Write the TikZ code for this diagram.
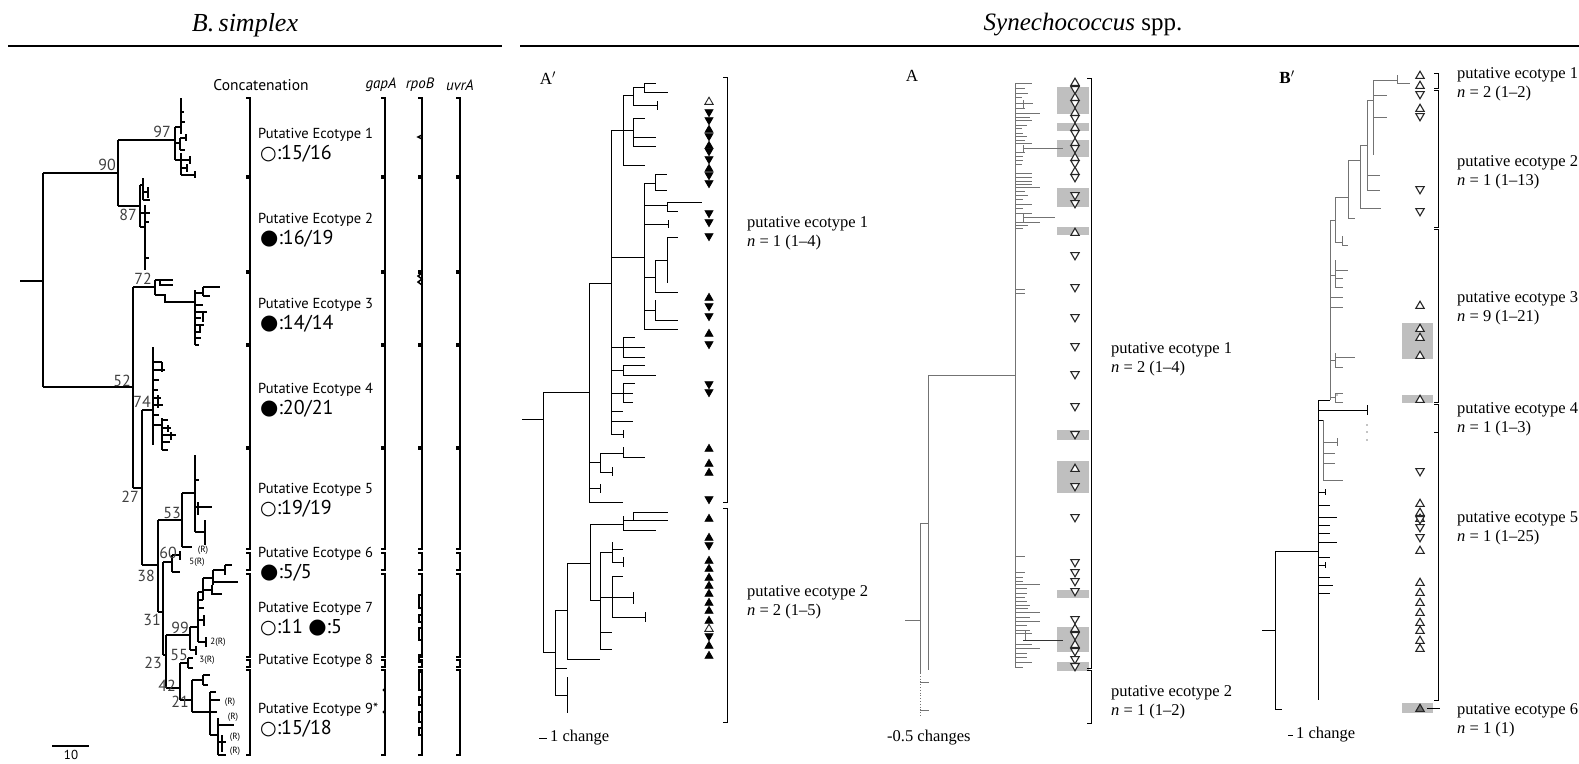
\documentclass[tikz,border=0pt]{standalone}
\usepackage{fontspec}
\setmainfont{Liberation Serif}
\newfontfamily\ptsans{PT Sans}
\newfontfamily\symf{DejaVu Sans}
\usetikzlibrary{positioning}
\newcommand{\opc}{{\symf\fontsize{19}{19}\selectfont ○}}
\newcommand{\flc}{{\symf\fontsize{21}{21}\selectfont ●}}
\newcommand{\seg}[3]{\draw (#1-4,#2)--(#1,#2)--(#1,#3)--(#1-4,#3);}
\newcommand{\comb}[2]{\foreach \cy/\cl in {#2} \draw (#1,\cy)--++(\cl,0);}
\tikzset{
  tu/.pic={\path[pic actions] (0,-3.8)--(4.2,3.4)--(-4.2,3.4)--cycle;},
  td/.pic={\path[pic actions] (0,3.8)--(4.2,-3.4)--(-4.2,-3.4)--cycle;}
}
\begin{document}
\begin{tikzpicture}[x=1pt,y=-1pt,line join=miter,
  bst/.style={line width=1.7pt},
  thin/.style={line width=0.8pt},
  ft/.style={draw,fill=black,line width=0.5pt},
  ot/.style={draw=black!85,fill=white,line width=1.1pt},
  gbox/.style={fill=black!25},
  lab/.style={font=\ptsans\fontsize{14.5}{16}\selectfont,anchor=west,inner sep=0},
  cnt/.style={font=\ptsans\fontsize{20}{22}\selectfont,anchor=west,inner sep=0},
  bsn/.style={font=\ptsans\fontsize{16}{18}\selectfont,text=black!75,inner sep=0},
  rr/.style={font=\ptsans\fontsize{9}{10}\selectfont,inner sep=0},
  eco/.style={font=\fontsize{16.5}{19}\selectfont,anchor=west,align=left,inner sep=0},
  pan/.style={font=\fontsize{17}{19}\selectfont,inner sep=0}]
\useasboundingbox (0,0) rectangle (1579,763);

% headers
\node[font=\fontsize{26}{28}\selectfont\itshape] (hb) at (245,25) {B.\,simplex};
\node[font=\fontsize{25}{28}\selectfont] (hs) at (1083,25) {\textit{Synechococcus} spp.};
\draw[line width=1.8pt] (8,46)--(502,46) (520,46)--(1579,46);

% ---- B. simplex tree
\begin{scope}[bst]
\draw (20,281)--(43,281) (43,173)--(43,387);
\draw (43,173)--(118,173) (118,140)--(118,206);
% clade 1
\draw (118,140)--(175,140) (175,127)--(175,160);
\draw (175,127)--(181,127) (181,98)--(181,134) (181,112)--(184,112) (181,122)--(185,122);
\draw (175,143)--(180,143) (180,138)--(180,150) (180,138)--(186,138) (186,134)--(186,141) (180,150)--(185,150);
\draw (175,160)--(181,160) (181,153)--(181,175) (181,160)--(190,160) (190,156)--(190,164) (181,168)--(187,168) (187,164)--(187,172) (181,175)--(195,175) (195,171)--(195,178);
% clade 2
\draw (118,206)--(140,206) (140,185)--(140,227);
\draw (140,185)--(143,185) (143,178)--(143,200) (143,192)--(148,192) (148,187)--(148,198) (143,200)--(150,200);
\draw (140,213)--(145,213) (145,205)--(145,270) (145,213)--(150,213) (145,222)--(149,222) (145,258)--(149,258) (140,227)--(146,227);
% node 72 and clade 3
\draw (133,287)--(155,287) (155,280)--(155,295);
\draw (155,280)--(173,280) (160,280)--(160,285)--(173,285);
\draw (155,295)--(165,295)--(165,302)--(195,302) (195,290)--(195,345);
\draw (195,293)--(203,293) (203,287)--(203,296) (203,287)--(220,287) (203,296)--(210,296);
\comb{195}{305/8,312/12,318/6,325/9,332/5,338/6,345/4}
\draw (203,312)--(203,322) (200,325)--(200,333);
% node 52
\draw (43,387)--(133,387) (133,287)--(133,488);
\draw (133,488)--(142,488) (142,410)--(142,565);
% clade 4
\draw (142,410)--(153,410) (153,347)--(153,445);
\comb{153}{362/9,370/12,380/6,390/5,398/8,405/10,415/6}
\draw (162,362)--(162,372) (158,395)--(158,408);
\draw (153,425)--(162,425) (162,418)--(162,450);
\comb{162}{420/6,428/9,435/14,442/8,450/6}
\draw (168,425)--(168,432) (171,432)--(171,440);
% node 38, 53
\draw (142,565)--(158,565) (158,520)--(158,612);
\draw (158,520)--(182,520) (182,493)--(182,547) (182,547)--(192,547);
\draw (182,493)--(195,493) (195,455)--(195,532);
\draw (195,480)--(199,480) (195,507)--(212,507) (198,502)--(198,515) (195,532)--(205,532) (205,520)--(205,545);
% node 31, 60
\draw (158,612)--(163,612) (163,562)--(163,655);
\draw (163,562)--(172,562) (172,555)--(172,572) (172,555)--(180,555) (172,572)--(180,572) (180,551)--(180,560);
% node 23, 99
\draw (163,655)--(166,655) (166,635)--(166,688);
\draw (166,635)--(190,635) (190,627)--(190,650) (190,650)--(196,650) (196,646)--(196,655);
\draw (190,627)--(198,627) (198,592)--(198,642) (198,642)--(206,642) (206,637)--(206,647);
\draw (198,620)--(204,620) (204,615)--(204,626) (198,608)--(204,608) (198,600)--(203,600);
\draw (198,592)--(203,592) (203,578)--(203,600) (203,590)--(212,590) (212,585)--(212,594)--(222,594);
\draw (203,578)--(213,578) (213,570)--(213,585) (213,570)--(225,570) (225,565)--(225,575) (225,565)--(232,565) (213,582)--(238,582);
% node 42, 55, 21
\draw (166,688)--(180,688) (180,663)--(180,700);
\draw (180,663)--(188,663) (188,658)--(188,668) (188,658)--(193,658) (188,668)--(193,668);
\draw (180,700)--(192,700) (192,680)--(192,712);
\draw (192,680)--(203,680) (203,675)--(203,685) (203,675)--(210,675) (203,685)--(208,685);
\draw (192,712)--(210,712) (210,692)--(210,735) (210,692)--(216,692) (210,700)--(220,700) (210,712)--(217,712);
\draw (210,735)--(218,735) (218,718)--(218,755) (218,725)--(234,725) (218,742)--(226,742) (218,755)--(226,755) (222,735)--(222,752);
\end{scope}
% support values
\foreach \t/\x/\y in {97/162/132,90/107/165,87/128/215,72/143/279,52/122/381,74/142/402,27/130/497,53/172/513,60/168/553,38/146/576,31/152/620,99/180/628,55/179/655,23/153/663,42/167/686,21/180/702}
  \node[bsn] (s\t) at (\x,\y) {\t};
\node[rr] (r1) at (203,550) {(R)};
\node[rr] (r2) at (197,562) {5(R)};
\node[rr] (r3) at (218,642) {2(R)};
\node[rr] (r4) at (207,660) {3(R)};
\node[rr] (r5) at (230,702) {(R)};
\node[rr] (r6) at (233,717) {(R)};
\node[rr] (r7) at (235,737) {(R)};
\node[rr] (r8) at (235,751) {(R)};
\draw[line width=1.4pt] (52,746)--(89,746);
\node[bsn,text=black,font=\ptsans\fontsize{13}{14}\selectfont] (sb) at (71,755) {10};

% brackets and gene columns
\node[lab,anchor=center,font=\ptsans\fontsize{15.5}{17}\selectfont] (hc) at (261,85) {Concatenation};
\node[lab,anchor=center,font=\ptsans\fontsize{15}{17}\selectfont] (hg) at (381,85) {\itshape gapA};
\node[lab,anchor=center,font=\ptsans\fontsize{15}{17}\selectfont] (hr) at (420,85) {\itshape rpoB};
\node[lab,anchor=center,font=\ptsans\fontsize{15}{17}\selectfont] (hu) at (460,85) {\itshape uvrA};
\begin{scope}[line width=1.5pt]
\foreach \bx in {250,385,422,460}
  \foreach \ya/\yb in {98/176,178/271,273/344,346/447,449/549,553/570,574/657,660/667,670/755}
    {\seg{\bx}{\ya}{\yb}}
\foreach \bx in {250,385,422,460}
  \foreach \yy in {177,272,345,448}
    \fill (\bx-2,\yy) circle (1.6);
\draw (422,135)--(418,137)--(422,139) (422,273)--(418,276)--(422,279)--(418,282)--(422,285);
\foreach \ya/\yb in {595/608,615/622,628/640,655/662,672/690,697/705,712/722,728/735}
  \draw (422,\ya)--(419,\ya)--(419,\yb)--(422,\yb);
\fill (384,690) circle (1.6) (384,712) circle (1.6);
\end{scope}

% ecotype labels
\node[lab] (e1) at (258,135) {Putative Ecotype 1};
\node[cnt] (c1) at (260,154) {\opc:15/16};
\node[lab] (e2) at (258,220) {Putative Ecotype 2};
\node[cnt] (c2) at (260,239) {\flc:16/19};
\node[lab] (e3) at (258,305) {Putative Ecotype 3};
\node[cnt] (c3) at (260,324) {\flc:14/14};
\node[lab] (e4) at (258,390) {Putative Ecotype 4};
\node[cnt] (c4) at (260,409) {\flc:20/21};
\node[lab] (e5) at (258,490) {Putative Ecotype 5};
\node[cnt] (c5) at (260,509) {\opc:19/19};
\node[lab] (e6) at (258,554) {Putative Ecotype 6};
\node[cnt] (c6) at (260,573) {\flc:5/5};
\node[lab] (e7) at (258,609) {Putative Ecotype 7};
\node[cnt] (c7) at (260,628) {\opc:11 \flc:5};
\node[lab] (e8) at (258,661) {Putative Ecotype 8};
\node[lab] (e9) at (258,710) {Putative Ecotype 9*};
\node[cnt] (c9) at (260,729) {\opc:15/18};

% ---- panel A'
\node[pan] (pa1) at (548,78) {A$'$};
\begin{scope}[thin]
\draw (522,419)--(543,419) (543,392)--(543,652);
\draw (543,392)--(589,392) (589,283)--(589,502);
\draw (589,283)--(611,283) (611,130)--(611,435);
\draw (611,130)--(623,130) (623,95)--(623,165) (623,165)--(645,165);
\draw (623,95)--(633,95) (633,87)--(633,105) (633,87)--(644,87) (644,83)--(644,92) (644,83)--(656,83) (644,92)--(668,92) (633,105)--(657,105) (657,101)--(657,110);
\draw (623,130)--(633,130) (633,118)--(633,146) (633,118)--(645,118) (633,137)--(656,137) (633,146)--(656,146);
\draw (611,257)--(644,257) (644,183)--(644,329);
\draw (644,183)--(655,183) (655,174)--(655,190) (655,174)--(667,174) (655,190)--(667,190);
\draw (644,205)--(667,205) (667,202)--(667,211) (667,202)--(702,202) (667,211)--(678,211);
\draw (644,224)--(668,224) (668,220)--(668,228);
\draw (644,277)--(655,277) (655,260)--(655,292) (655,260)--(667,260) (667,237)--(667,283) (667,237)--(678,237) (655,292)--(678,292);
\draw (644,310)--(655,310) (655,300)--(655,320) (655,320)--(678,320) (644,329)--(678,329);
\draw (611,347)--(623,347) (623,337)--(623,357) (623,337)--(635,337) (623,347)--(645,347) (623,357)--(645,357);
\draw (611,370)--(623,370) (623,365)--(623,375) (623,365)--(645,365) (623,375)--(656,375);
\draw (611,393)--(623,393) (623,383)--(623,402) (623,383)--(635,383) (623,393)--(633,393) (623,402)--(633,402);
\draw (611,411)--(623,411) (611,421)--(633,421) (611,434)--(623,434) (623,430)--(623,438);
\draw (589,462)--(600,462) (600,453)--(600,472) (600,453)--(623,453) (623,447)--(623,457) (623,457)--(645,457) (600,472)--(612,472) (612,467)--(612,476);
\draw (589,488)--(600,488) (600,484)--(600,493) (589,502)--(623,502);
\draw (543,652)--(555,652) (555,610)--(555,695);
\draw (555,668)--(567,668) (555,695)--(567,695) (567,677)--(567,713);
\draw (555,610)--(567,610) (567,563)--(567,659) (567,659)--(600,659);
\draw (567,563)--(590,563) (590,524)--(590,600);
\draw (590,524)--(623,524) (623,516)--(623,530) (623,520)--(633,520) (633,512)--(633,520) (633,512)--(668,512) (633,520)--(668,520) (623,530)--(656,530);
\draw (590,600)--(600,600) (600,552)--(600,649);
\draw (600,552)--(612,552) (612,542)--(612,562) (612,549)--(623,549) (612,562)--(623,562) (623,557)--(623,567);
\draw (600,597)--(612,597) (612,576)--(612,617) (612,576)--(623,576) (612,597)--(633,597) (633,592)--(633,604) (612,617)--(645,617) (645,612)--(645,622);
\draw (600,632)--(612,632) (600,649)--(612,649);
\seg{727}{77}{502}
\seg{727}{508}{722}
\draw (539,738)--(547,738);
\end{scope}
\pic[ot,line width=0.9pt] at (709,101) {tu};
\foreach \y/\s in {113/td,121/td,129/tu,137/td,145/tu,152/td,160/td,168/tu,176/td,184/td,214/td,223/td,237/td,297/tu,307/td,317/td,333/tu,345/td,385/td,393/td,448/tu,463/tu,472/tu,500/td,518/tu,537/tu,546/td,560/tu,568/tu,577/tu,585/tu,593/tu,602/tu,610/tu,620/tu,637/td,645/tu,655/tu}
  \pic[ft] at (709,\y) {\s};
\pic[ot,line width=0.9pt] at (709,628) {tu};
\node[eco] (la1) at (747,233) {putative ecotype 1\\\textit{n} = 1 (1--4)};
\node[eco] (la2) at (747,602) {putative ecotype 2\\\textit{n} = 2 (1--5)};
\node[eco] (sa1) at (550,738) {1 change};

% ---- panel A
\node[pan] (pa) at (912,76) {A};
\foreach \ya/\yb in {87/114,123/131,140/157,188/207,227/235,430/440,461/493,590/598,627/652,662/671}
  \fill[gbox] (1057,\ya) rectangle (1089,\yb);
\begin{scope}[thin,draw=black!55]
\draw (905,620)--(920,620) (920,523)--(920,673);
\draw[dotted] (920,673)--(920,717);
\draw (920,682)--(929,682) (920,710)--(929,710);
\draw (920,523)--(928,523) (928,375)--(928,670) (928,375)--(1015,375) (1015,83)--(1015,667);
\comb{1015}{83/17,88/10,93/13,97/7,103/18,108/10,113/25,117/15,120/17,125/12,128/7,133/8,136/12,140/10,143/17,152/10,156/8,160/8,164/7,173/17,177/17,181/17,184/17,187/25,191/10,195/13,199/8,204/17,208/8,213/17,222/25,225/13,228/8,289/10,293/10,556/10,572/10,577/8,581/8,584/25,588/12,593/12,597/10,601/12,605/15,608/13,612/25,617/15,621/25,625/12,630/15,633/17,644/17,648/25,653/12,657/12,662/17,667/8}
\draw (1023,100)--(1023,108) (1023,145)--(1023,152) (1023,213)--(1023,222) (1025,630)--(1025,640);
\draw (1023,148)--(1063,148) (1023,217)--(1055,217);
\draw[black!80] (1023,640)--(1063,640);
\end{scope}
\foreach \y/\s in {82/tu,90/td,97/tu,104/td,112/tu,119/td,127/tu,134/td,142/tu,149/td,157/tu,164/td,171/tu,178/td,196/td,204/td,232/tu,256/td,288/td,318/td,347/td,375/td,407/td,435/td,468/tu,487/td,518/td,563/td,573/td,582/td,592/td,620/td,628/tu,636/td,644/tu,652/td,660/td,667/td}
  \pic[ot] at (1075,\y) {\s};
\begin{scope}[thin]
\seg{1091}{78}{668}
\seg{1091}{670}{723}
\end{scope}
\node[eco] (lb1) at (1111,359) {putative ecotype 1\\\textit{n} = 2 (1--4)};
\node[eco] (lb2) at (1111,702) {putative ecotype 2\\\textit{n} = 1 (1--2)};
\node[eco] (sb1) at (887,738) {-0.5 changes};

% ---- panel B'
\node[pan,font=\bfseries\fontsize{17}{19}\selectfont] (pb) at (1287,77) {B$'$};
\fill[gbox] (1402,323) rectangle (1433,359);
\fill[gbox] (1402,395) rectangle (1433,403);
\fill[gbox] (1402,703) rectangle (1433,713);
\begin{scope}[thin,draw=black!55]
\draw (1373,80)--(1397,80) (1397,75)--(1397,83) (1397,83)--(1410,83);
\draw (1373,80)--(1373,155) (1373,95)--(1387,95) (1373,117)--(1387,117);
\draw (1367,100)--(1373,100) (1367,100)--(1367,190) (1367,175)--(1380,175) (1367,190)--(1380,190);
\draw (1360,145)--(1367,145) (1360,145)--(1360,208) (1360,208)--(1381,208);
\draw (1348,160)--(1360,160) (1348,160)--(1348,218) (1348,218)--(1355,218);
\draw (1335,197)--(1348,197) (1335,197)--(1335,242);
\draw (1330,220)--(1335,220) (1330,220)--(1330,400);
\draw (1335,242)--(1342,242) (1342,236)--(1342,245) (1342,245)--(1348,245);
\draw (1330,275)--(1335,275) (1335,260)--(1335,287) (1335,270)--(1348,270) (1335,278)--(1343,278) (1335,287)--(1343,287);
\draw (1330,297)--(1343,297) (1330,307)--(1343,307);
\draw (1330,360)--(1335,360) (1335,353)--(1335,367) (1335,357)--(1355,357) (1335,367)--(1343,367);
\draw (1330,397)--(1335,397) (1335,393)--(1335,402) (1335,393)--(1343,393) (1335,402)--(1343,402);
\draw (1323,420)--(1323,480) (1323,442)--(1337,442) (1337,438)--(1337,446) (1323,453)--(1335,453) (1323,463)--(1335,463) (1323,480)--(1343,480);
\end{scope}
\begin{scope}[thin]
\draw (1262,630)--(1275,630) (1275,551)--(1275,709) (1275,709)--(1282,709);
\draw (1275,551)--(1318,551) (1318,400)--(1318,700);
\draw (1318,400)--(1330,400) (1318,420)--(1323,420);
\draw (1318,410)--(1367,410) (1367,405)--(1367,415);
\comb{1318}{492/7,505/12,517/19,525/12,533/12,542/19,557/12,565/7,577/12,585/15,593/12}
\draw (1325,562)--(1325,568) (1325,489)--(1325,495);
\fill (1367,425) circle (0.6) (1367,432) circle (0.6) (1367,440) circle (0.6) (1337,395) circle (0.6);
\seg{1438}{73}{88}
\seg{1438}{90}{227}
\seg{1438}{229}{402}
\draw (1434,404)--(1438,404)--(1438,700)--(1434,700) (1434,432)--(1438,432);
\draw (1427,708)--(1440,708);
\draw (1288,735)--(1293,735);
\end{scope}
\foreach \y/\s in {75/tu,85/tu,95/td,108/tu,117/td,190/td,212/td,305/tu,328/tu,337/tu,355/tu,399/tu,472/td,503/tu,512/tu,518/tu,520/td,528/td,538/td,550/tu,582/tu,592/tu,602/tu,612/tu,622/tu,630/tu,640/tu,648/tu}
  \pic[ot] at (1420,\y) {\s};
\pic[ot,fill=black!55] at (1420,708) {tu};
\node[eco] (lc1) at (1457,84) {putative ecotype 1\\\textit{n} = 2 (1--2)};
\node[eco] (lc2) at (1457,172) {putative ecotype 2\\\textit{n} = 1 (1--13)};
\node[eco] (lc3) at (1457,308) {putative ecotype 3\\\textit{n} = 9 (1--21)};
\node[eco] (lc4) at (1457,419) {putative ecotype 4\\\textit{n} = 1 (1--3)};
\node[eco] (lc5) at (1457,528) {putative ecotype 5\\\textit{n} = 1 (1--25)};
\node[eco] (lc6) at (1457,720) {putative ecotype 6\\\textit{n} = 1 (1)};
\node[eco] (sc1) at (1296,735) {1 change};
\end{tikzpicture}
\end{document}
